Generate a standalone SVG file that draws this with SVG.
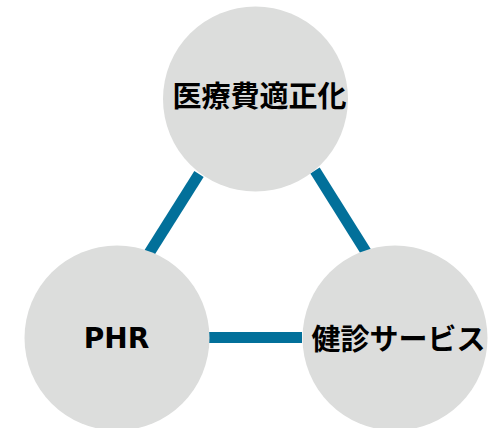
<svg xmlns="http://www.w3.org/2000/svg" width="493" height="428" viewBox="0 0 493 428">
<style>
.link{stroke:#02709a;stroke-width:11;fill:none;stroke-linecap:butt}
.node{fill:#dcdddc}
.lbl{font-family:"Noto Sans CJK JP","DejaVu Sans",sans-serif;font-weight:bold;font-size:29px;fill:#000;text-anchor:middle}
.lat{font-family:"DejaVu Sans","Noto Sans CJK JP",sans-serif;font-weight:bold;font-size:28px;fill:#000;text-anchor:middle}
</style>
<rect width="493" height="428" fill="#fff"/>
<g id="connectors">
<line class="link" x1="199" y1="174" x2="141" y2="266"/>
<line class="link" x1="315" y1="170.5" x2="373" y2="263"/>
<line class="link" x1="200" y1="337.5" x2="302" y2="337.5"/>
</g>
<g id="node-iryouhi">
<circle class="node" cx="255.5" cy="99" r="92.5"/>
<text class="lbl" x="259.5" y="106.5">医療費適正化</text>
</g>
<g id="node-phr">
<circle class="node" cx="117" cy="338" r="92.5"/>
<text class="lat" x="116.5" y="348">PHR</text>
</g>
<g id="node-kenshin">
<circle class="node" cx="395" cy="338" r="92.5"/>
<text class="lbl" x="398.5" y="349.5">健診サービス</text>
</g>
</svg>
